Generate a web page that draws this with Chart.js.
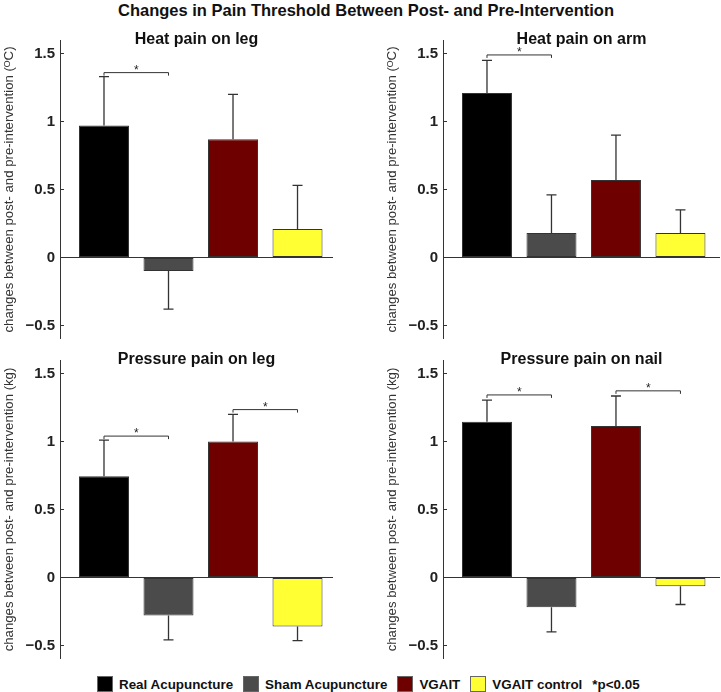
<!DOCTYPE html>
<html>
<head>
<meta charset="utf-8">
<script src="https://cdn.jsdelivr.net/npm/chart.js@4.4.0/dist/chart.umd.min.js"></script>
<style>
  body { margin: 0; background: #fff; }
  #fig { position: relative; width: 721px; height: 692px; overflow: hidden; font-family: "Liberation Sans", Arial, sans-serif; }
  #fig canvas { position: absolute; }
  #titulo { position: absolute; left: 118px; top: 0px; font-weight: bold; font-size: 16.5px; color: #111; white-space: nowrap; line-height: 20px; }
  #legenda { position: absolute; left: 97px; top: 676px; display: flex; align-items: center; font-weight: bold; font-size: 13.4px; color: #111; white-space: nowrap; }
  #legenda .item { display: flex; align-items: center; margin-right: 10px; }
  #legenda .cor { width: 14px; height: 14px; border: 1px solid #666; margin-right: 6px; }
</style>
</head>
<body>
<div id="fig">
  <div id="titulo">Changes in Pain Threshold Between Post- and Pre-Intervention</div>
  <canvas id="p1" width="360" height="339" style="left:0px;top:0px"></canvas>
  <canvas id="p2" width="361" height="339" style="left:360px;top:0px"></canvas>
  <canvas id="p3" width="360" height="659" style="left:0px;top:0px"></canvas>
  <canvas id="p4" width="361" height="659" style="left:360px;top:0px"></canvas>
  <div id="legenda"></div>
</div>
<script>
// grupos e cores
const grupos = ['Real Acupuncture', 'Sham Acupuncture', 'VGAIT', 'VGAIT control'];
const cores = ['#000000', '#4b4b4b', '#6e0000', '#ffff33'];
const nota = '*p<0.05';

// médias (barras) e erro padrão de cada painel
const calorPerna = [0.97, -0.10, 0.87, 0.21];
const calorPernaErr = [0.36, 0.28, 0.33, 0.32];
const calorBraco = [1.21, 0.18, 0.57, 0.18];
const calorBracoErr = [0.24, 0.28, 0.33, 0.17];
const pressaoPerna = [0.745, -0.28, 1.00, -0.36];
const pressaoPernaErr = [0.265, 0.18, 0.20, 0.105];
const pressaoUnha = [1.145, -0.22, 1.115, -0.064];
const pressaoUnhaErr = [0.16, 0.18, 0.22, 0.135];

// pares significativos: [barra A, barra B, altura]
const calorPernaSig = [[0, 1, 1.36]];
const calorBracoSig = [[0, 1, 1.49]];
const pressaoPernaSig = [[0, 1, 1.04], [2, 3, 1.235]];
const pressaoUnhaSig = [[0, 1, 1.343], [2, 3, 1.373]];

const yTicks = [-0.5, 0, 0.5, 1, 1.5];
const yTituloC = 'changes between post- and pre-intervention (\u1D3CC)';
const yTituloKg = 'changes between post- and pre-intervention (kg)';

const fonte = '"Liberation Sans", Arial, sans-serif';
const corEixo = '#333';

// barras de erro e colchetes de significância
const errorBars = {
  id: 'errorBars',
  afterDatasetsDraw(chart, args, opts) {
    const { ctx, scales: { x, y } } = chart;
    const pontos = chart.data.datasets[0].data;
    ctx.save();
    ctx.strokeStyle = corEixo;
    ctx.lineWidth = 1.3;
    pontos.forEach((p, i) => {
      const fim = p.y >= 0 ? p.y + opts.err[i] : p.y - opts.err[i];
      const px = x.getPixelForValue(p.x);
      const py = y.getPixelForValue(fim);
      ctx.beginPath();
      ctx.moveTo(px, y.getPixelForValue(p.y));
      ctx.lineTo(px, py);
      ctx.moveTo(px - 5, py);
      ctx.lineTo(px + 5, py);
      ctx.stroke();
    });
    ctx.lineWidth = 1;
    ctx.fillStyle = '#222';
    ctx.font = '12px ' + fonte;
    ctx.textAlign = 'center';
    ctx.textBaseline = 'bottom';
    opts.sig.forEach(([a, b, nivel]) => {
      const xa = x.getPixelForValue(pontos[a].x);
      const xb = x.getPixelForValue(pontos[b].x);
      const yy = y.getPixelForValue(nivel);
      ctx.beginPath();
      ctx.moveTo(xa, yy + 3);
      ctx.lineTo(xa, yy);
      ctx.lineTo(xb, yy);
      ctx.lineTo(xb, yy + 3);
      ctx.stroke();
      ctx.fillText('*', (xa + xb) / 2, yy + 4);
    });
    ctx.restore();
  }
};

function criarPainel(id, titulo, yTitulo, valores, erros, sig, layout) {
  return new Chart(document.getElementById(id), {
    type: 'bar',
    data: {
      datasets: [{
        data: valores.map((v, i) => ({ x: i + 1, y: v })),
        backgroundColor: cores,
        borderColor: corEixo,
        borderWidth: 1,
        borderSkipped: false,
        barPercentage: 0.775,
        categoryPercentage: 1
      }]
    },
    plugins: [errorBars],
    options: {
      responsive: false,
      animation: false,
      layout: { padding: { left: 0, right: layout.direita, top: layout.topo, bottom: 0 } },
      plugins: {
        legend: { display: false },
        tooltip: { enabled: false },
        title: {
          display: true,
          fullSize: false,
          text: titulo,
          color: '#111',
          font: { family: fonte, size: 16, weight: 'bold' },
          padding: { top: 30, bottom: -9.2 }
        },
        errorBars: { err: erros, sig: sig }
      },
      scales: {
        x: { type: 'linear', min: 0.318, max: layout.xMax, offset: false, display: false },
        y: {
          min: -0.6,
          max: 1.6,
          afterBuildTicks: s => { s.ticks = yTicks.map(v => ({ value: v })); },
          afterFit: s => { s.width = layout.eixo; s.paddingTop = 0; s.paddingBottom = 0; },
          ticks: {
            color: '#222',
            padding: 9,
            font: { family: fonte, size: 15, weight: 'bold' },
            callback: v => v < 0 ? '\u2212' + Math.abs(v) : String(v)
          },
          grid: {
            color: c => (c.tick && c.tick.value === 0) ? corEixo : 'rgba(0,0,0,0)',
            tickColor: corEixo,
            tickLength: -4,
            lineWidth: 1
          },
          border: { color: corEixo, width: 1 },
          title: {
            display: true,
            text: yTitulo,
            color: '#333',
            font: { family: fonte, size: 13.2 },
            padding: { top: layout.yTitPad, bottom: 0 }
          }
        }
      }
    }
  });
}

criarPainel('p1', 'Heat pain on leg', yTituloC, calorPerna, calorPernaErr, calorPernaSig,
  { direita: 27, topo: 0, xMax: 4.55, eixo: 60, yTitPad: 1 });
criarPainel('p2', 'Heat pain on arm', yTituloC, calorBraco, calorBracoErr, calorBracoSig,
  { direita: 1, topo: 0, xMax: 4.613, eixo: 83, yTitPad: 24 });
criarPainel('p3', 'Pressure pain on leg', yTituloKg, pressaoPerna, pressaoPernaErr, pressaoPernaSig,
  { direita: 27, topo: 320, xMax: 4.55, eixo: 60, yTitPad: 1 });
criarPainel('p4', 'Pressure pain on nail', yTituloKg, pressaoUnha, pressaoUnhaErr, pressaoUnhaSig,
  { direita: 1, topo: 320, xMax: 4.613, eixo: 83, yTitPad: 24 });

// legenda comum
const legenda = document.getElementById('legenda');
grupos.forEach((g, i) => {
  const item = document.createElement('div');
  item.className = 'item';
  item.innerHTML = '<span class="cor" style="background:' + cores[i] + '"></span><span>' + g + '</span>';
  legenda.appendChild(item);
});
const n = document.createElement('div');
n.className = 'item';
n.textContent = nota;
legenda.appendChild(n);
</script>
</body>
</html>
